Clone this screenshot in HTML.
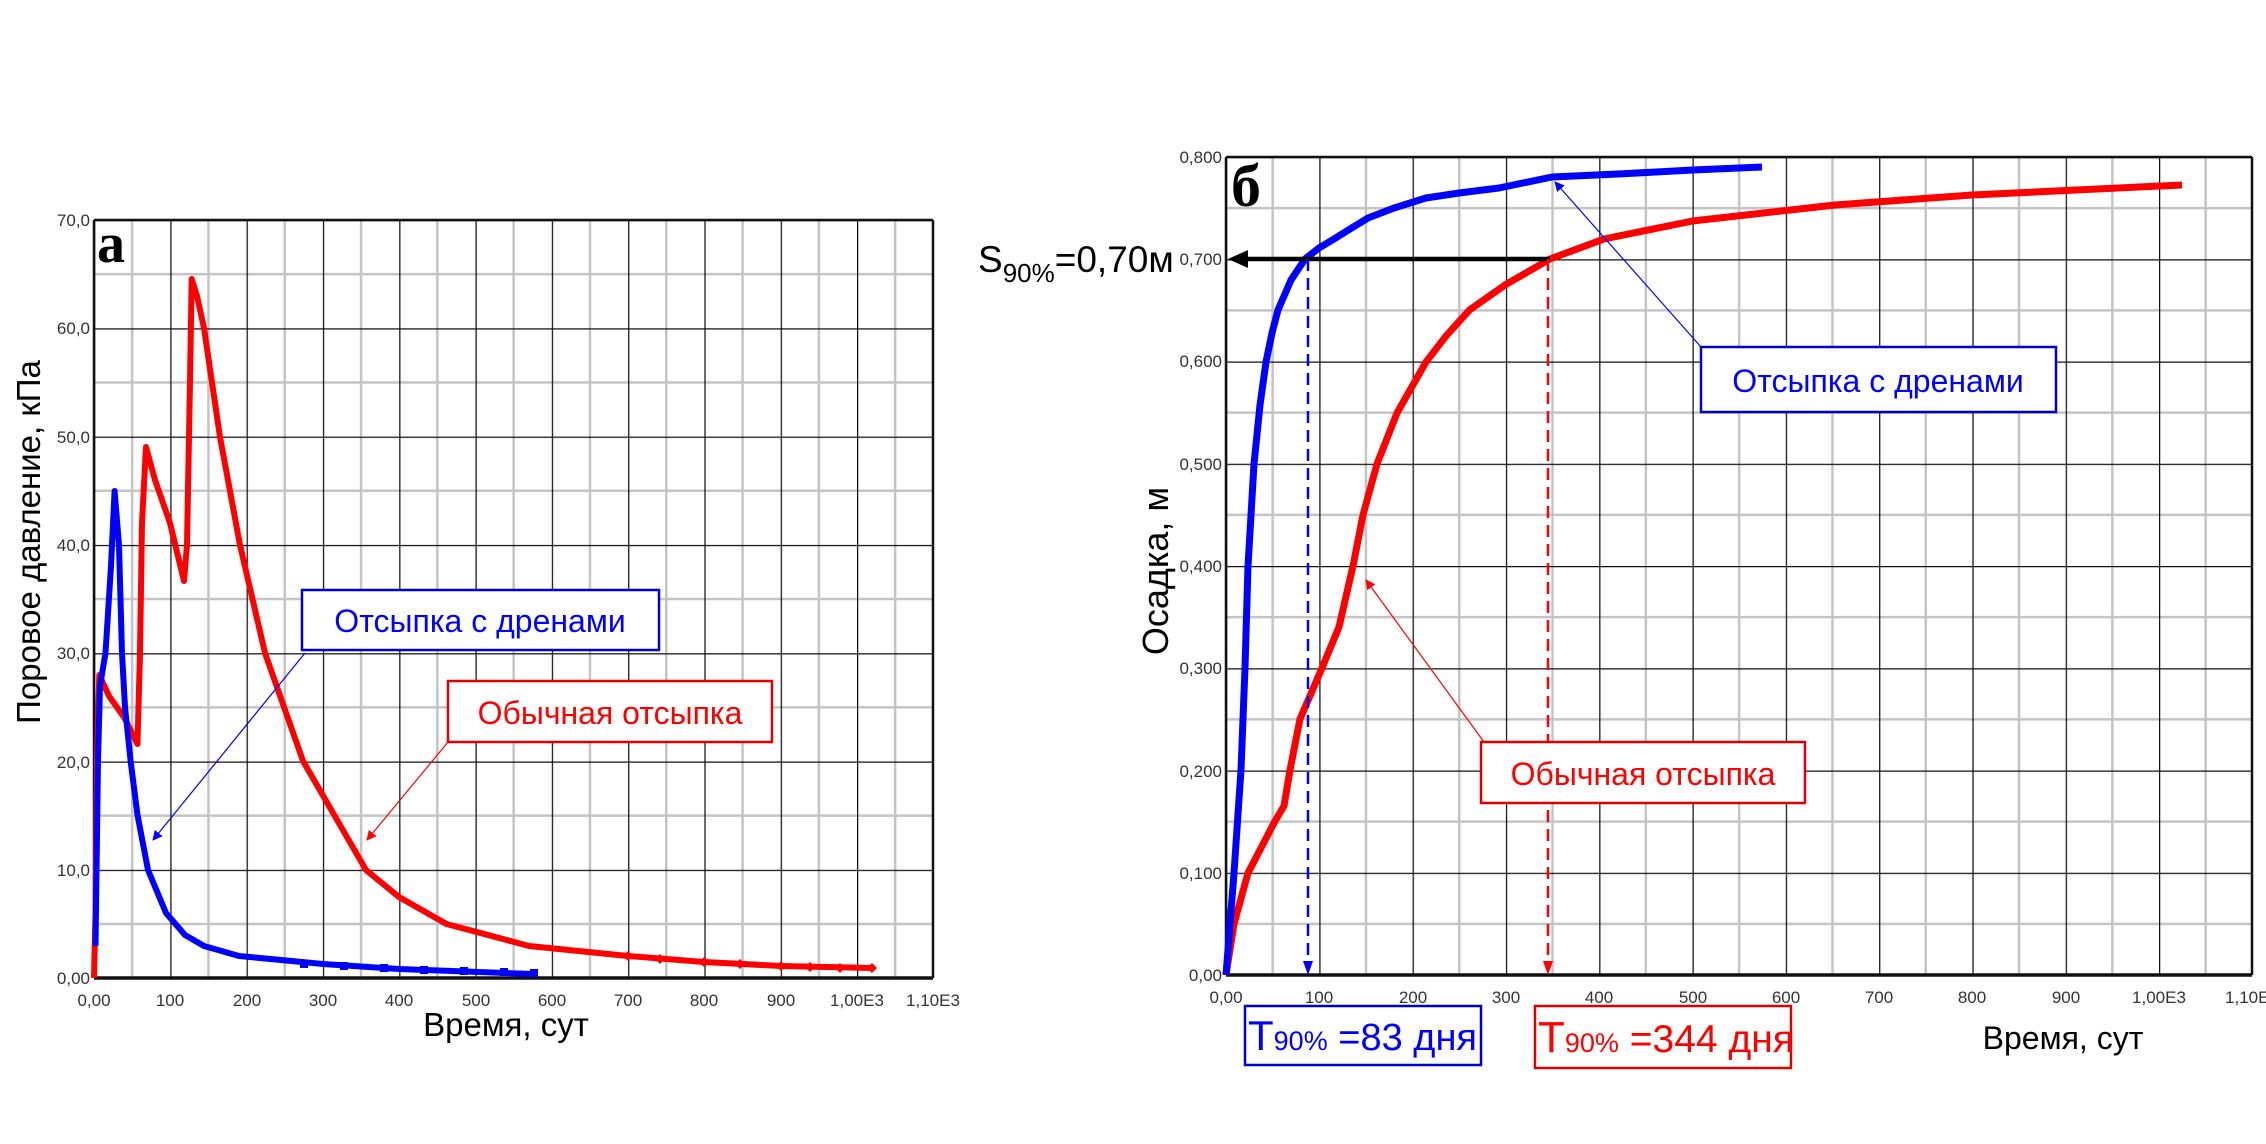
<!DOCTYPE html>
<html><head><meta charset="utf-8"><style>
html,body{margin:0;padding:0;background:#fff}
svg{display:block}
.tk{font-family:"Liberation Sans",sans-serif;font-size:17px;fill:#333}
.lb{font-family:"Liberation Sans","DejaVu Sans",sans-serif}
</style></head><body>
<svg width="2266" height="1144" viewBox="0 0 2266 1144" xmlns="http://www.w3.org/2000/svg">
<defs>
<pattern id="gl" patternUnits="userSpaceOnUse" x="94" y="220" width="76.3" height="108.3">
<line x1="38.15" y1="0" x2="38.15" y2="108.3" stroke="#c4c4c4" stroke-width="2.5"/>
<line x1="0" y1="54.15" x2="76.3" y2="54.15" stroke="#c4c4c4" stroke-width="2.5"/>
<line x1="0" y1="0" x2="0" y2="108.3" stroke="#111" stroke-width="2.5"/>
<line x1="0" y1="0" x2="76.3" y2="0" stroke="#111" stroke-width="2.5"/>
</pattern>
<pattern id="gr" patternUnits="userSpaceOnUse" x="1226" y="157" width="93.3" height="102.25">
<line x1="46.65" y1="0" x2="46.65" y2="102.25" stroke="#c4c4c4" stroke-width="2.5"/>
<line x1="0" y1="51.1" x2="93.3" y2="51.1" stroke="#c4c4c4" stroke-width="2.5"/>
<line x1="0" y1="0" x2="0" y2="102.25" stroke="#111" stroke-width="2.5"/>
<line x1="0" y1="0" x2="93.3" y2="0" stroke="#111" stroke-width="2.5"/>
</pattern>
<marker id="ab" markerWidth="10" markerHeight="10" refX="9" refY="5" orient="auto" markerUnits="userSpaceOnUse"><path d="M0,0 L10,5 L0,10 z" fill="#0000ff"/></marker>
<marker id="ar" markerWidth="10" markerHeight="10" refX="9" refY="5" orient="auto" markerUnits="userSpaceOnUse"><path d="M0,0 L10,5 L0,10 z" fill="#ff0000"/></marker>
</defs>

<!-- LEFT CHART -->
<rect x="94" y="220" width="839" height="758" fill="url(#gl)"/>
<line x1="94" y1="220" x2="933" y2="220" stroke="#111" stroke-width="2.5"/>
<line x1="933" y1="220" x2="933" y2="978" stroke="#111" stroke-width="2.5"/>
<line x1="94" y1="220" x2="94" y2="978" stroke="#111" stroke-width="2.5"/>
<line x1="94" y1="978" x2="933" y2="978" stroke="#111" stroke-width="3.5"/>
<g class="tk" text-anchor="end">
<text x="90" y="226">70,0</text><text x="90" y="334">60,0</text><text x="90" y="443">50,0</text><text x="90" y="551">40,0</text><text x="90" y="659">30,0</text><text x="90" y="768">20,0</text><text x="90" y="876">10,0</text><text x="90" y="984">0,00</text>
</g>
<g class="tk" text-anchor="middle">
<text x="94" y="1006">0,00</text><text x="170" y="1006">100</text><text x="247" y="1006">200</text><text x="323" y="1006">300</text><text x="399" y="1006">400</text><text x="476" y="1006">500</text><text x="552" y="1006">600</text><text x="628" y="1006">700</text><text x="704" y="1006">800</text><text x="781" y="1006">900</text><text x="857" y="1006">1,00E3</text><text x="933" y="1006">1,10E3</text>
</g>
<text x="97" y="262" font-family="Liberation Serif,serif" font-weight="bold" font-size="56">а</text>

<polyline fill="none" stroke="#ff0000" stroke-width="6" stroke-linejoin="round" points="94,978 95.5,913 97,761 99.3,675 109,696 124.5,718 137.5,744 140,653 142,523 146,447 155,480 170,523 184,581 187,545 190,382 191.7,279 197,296 204,328 220,437 240,545 265,653 303,761 366,870 399,897 446.5,924 529,946 628,956 704,962 781,966 872,968"/>
<g fill="#ff0000">
<path d="M628,951 l5,5 -5,5 -5,-5z"/><path d="M660,954 l5,5 -5,5 -5,-5z"/><path d="M704,957 l5,5 -5,5 -5,-5z"/><path d="M740,959 l5,5 -5,5 -5,-5z"/><path d="M781,961 l5,5 -5,5 -5,-5z"/><path d="M810,962 l5,5 -5,5 -5,-5z"/><path d="M840,963 l5,5 -5,5 -5,-5z"/><path d="M872,963 l5,5 -5,5 -5,-5z"/>
</g>
<polyline fill="none" stroke="#0000ff" stroke-width="6" stroke-linejoin="round" points="95.5,946 98,761 100,686 105.5,653 111,566 114.6,491 119,545 122,653 125,707 130.6,761 137.5,815 148,870 166,913 185,935 204,946 239,956 323,964 399,969 533,974"/>
<g fill="#0000ff">
<rect x="300" y="960" width="8" height="8"/><rect x="340" y="962" width="8" height="8"/><rect x="380" y="964" width="8" height="8"/><rect x="420" y="966" width="8" height="8"/><rect x="460" y="967" width="8" height="8"/><rect x="500" y="968" width="8" height="8"/><rect x="530" y="969" width="8" height="8"/>
</g>

<rect x="302" y="590" width="357" height="60" fill="#fff" stroke="#0000cc" stroke-width="2.5"/>
<text x="480" y="632" text-anchor="middle" class="lb" font-size="32" fill="#0000ff">Отсыпка с дренами</text>
<line x1="305" y1="653" x2="153" y2="840" stroke="#0000ff" stroke-width="1.2" marker-end="url(#ab)"/>
<rect x="448" y="681" width="324" height="61" fill="#fff" stroke="#dd0000" stroke-width="2.5"/>
<text x="610" y="724" text-anchor="middle" class="lb" font-size="32" fill="#ff0000">Обычная отсыпка</text>
<line x1="448" y1="742" x2="367" y2="840" stroke="#ff0000" stroke-width="1.2" marker-end="url(#ar)"/>

<text transform="translate(40,542) rotate(-90)" text-anchor="middle" class="lb" font-size="33" fill="#000">Поровое давление, кПа</text>
<text x="506" y="1036" text-anchor="middle" class="lb" font-size="33" fill="#000">Время, сут</text>

<!-- RIGHT CHART -->
<rect x="1226" y="157" width="1026" height="818" fill="url(#gr)"/>
<line x1="1226" y1="157" x2="2252" y2="157" stroke="#111" stroke-width="2.5"/>
<line x1="2252" y1="157" x2="2252" y2="975" stroke="#111" stroke-width="2.5"/>
<line x1="1226" y1="157" x2="1226" y2="975" stroke="#111" stroke-width="2.5"/>
<line x1="1226" y1="975" x2="2252" y2="975" stroke="#111" stroke-width="3.5"/>
<g class="tk" text-anchor="end" font-size="16">
<text x="1222" y="163">0,800</text><text x="1222" y="265">0,700</text><text x="1222" y="367">0,600</text><text x="1222" y="470">0,500</text><text x="1222" y="572">0,400</text><text x="1222" y="674">0,300</text><text x="1222" y="777">0,200</text><text x="1222" y="879">0,100</text><text x="1222" y="981">0,00</text>
</g>
<g class="tk" text-anchor="middle">
<text x="1226" y="1003">0,00</text><text x="1319" y="1003">100</text><text x="1413" y="1003">200</text><text x="1506" y="1003">300</text><text x="1599" y="1003">400</text><text x="1693" y="1003">500</text><text x="1786" y="1003">600</text><text x="1879" y="1003">700</text><text x="1972" y="1003">800</text><text x="2066" y="1003">900</text><text x="2159" y="1003">1,00E3</text><text x="2252" y="1003">1,10E3</text>
</g>
<text x="1231" y="206" font-family="Liberation Serif,serif" font-weight="bold" font-size="60">б</text>

<polyline fill="none" stroke="#ff0000" stroke-width="7" stroke-linejoin="round" points="1226,975 1234,924 1248,873 1274.5,822 1284,806 1290,770 1300,719 1322,668 1339,627 1353,566 1363,515 1377,464 1397,413 1426,362 1446,336 1469.5,310 1505,285 1550,259 1604,239 1692.5,221 1835,205 1972,195 2182,185"/>
<polyline fill="none" stroke="#0000ff" stroke-width="7" stroke-linejoin="round" points="1226,975 1234,873 1241,770 1245,668 1248,566 1254,464 1260,405 1266,362 1272,333 1278,310 1291,280 1305,259 1319,248 1334,239 1350,229 1368,218 1394,208 1426,198 1459,193 1499,188 1552,177 1618,174 1693,170 1762,167"/>

<line x1="1550" y1="259" x2="1240" y2="259" stroke="#000" stroke-width="4.5"/>
<path d="M1228,259 l20,-9 0,18z" fill="#000"/>
<line x1="1308" y1="259" x2="1308" y2="962" stroke="#0000ff" stroke-width="2.5" stroke-dasharray="12,7"/>
<path d="M1308,975 l-5,-14 10,0z" fill="#0000ff"/>
<line x1="1548" y1="259" x2="1548" y2="962" stroke="#ff0000" stroke-width="2.5" stroke-dasharray="12,7"/>
<path d="M1548,975 l-5,-14 10,0z" fill="#ff0000"/>

<text x="978" y="272" class="lb" font-size="37" fill="#000">S<tspan font-size="26" dy="10">90%</tspan><tspan dy="-10">=0,70м</tspan></text>

<rect x="1701" y="347" width="355" height="65" fill="#fff" stroke="#0000cc" stroke-width="2.5"/>
<text x="1878" y="392" text-anchor="middle" class="lb" font-size="32" fill="#0000ff">Отсыпка с дренами</text>
<line x1="1701" y1="347" x2="1555" y2="182" stroke="#0000ff" stroke-width="1.2" marker-end="url(#ab)"/>
<rect x="1481" y="742" width="324" height="61" fill="#fff" stroke="#dd0000" stroke-width="2.5"/>
<text x="1643" y="785" text-anchor="middle" class="lb" font-size="32" fill="#ff0000">Обычная отсыпка</text>
<line x1="1484" y1="742" x2="1366" y2="580" stroke="#ff0000" stroke-width="1.2" marker-end="url(#ar)"/>

<text transform="translate(1168,571) rotate(-90)" text-anchor="middle" class="lb" font-size="36" fill="#000">Осадка, м</text>
<text x="2063" y="1049" text-anchor="middle" class="lb" font-size="32" fill="#000">Время, сут</text>

<rect x="1245" y="1006" width="236" height="59" fill="#fff" stroke="#0000cc" stroke-width="2.5"/>
<text x="1248" y="1050" class="lb" font-size="42" fill="#0000ff">T<tspan font-size="27">90%</tspan><tspan font-size="38"> =83 дня</tspan></text>
<rect x="1535" y="1006" width="256" height="62" fill="#fff" stroke="#dd0000" stroke-width="2.5"/>
<text x="1538" y="1052" class="lb" font-size="44" fill="#ff0000">T<tspan font-size="27">90%</tspan><tspan font-size="39"> =344 дня</tspan></text>
</svg>
</body></html>
